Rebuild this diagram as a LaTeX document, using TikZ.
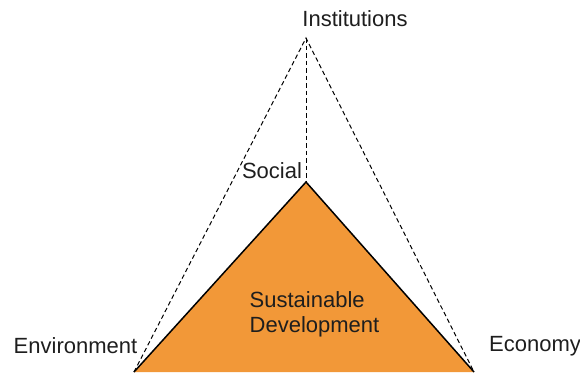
\documentclass[tikz,border=0pt]{standalone}
\usepackage{fontspec}
\setmainfont{Liberation Sans}
\definecolor{sdorange}{RGB}{242,152,56}
\definecolor{txt}{RGB}{30,30,30}
\begin{document}
\begin{tikzpicture}[x=1pt,y=-1pt,
  lbl/.style={font=\fontsize{22}{25}\selectfont, text=txt, inner sep=0pt},
  dashline/.style={draw=black, line width=1pt, dash pattern=on 4.5pt off 3pt},
  edge/.style={draw=black, line width=1.5pt, line join=miter}]
\useasboundingbox (0,0) rectangle (580,372);
\coordinate (I) at (306,38);
\coordinate (S) at (306,182);
\coordinate (L) at (134,372);
\coordinate (R) at (474,372);
\draw[dashline] (L) -- (I) -- (R);
\draw[dashline] (I) -- (S);
\fill[sdorange] (L) -- (S) -- (R) -- cycle;
\draw[edge] (L) -- (S) -- (R);
\node[lbl] (inst) at (355,19) {Institutions};
\node[lbl] (soc) at (272,171) {Social};
\node[lbl] (env) at (75.5,346) {Environment};
\node[lbl] (eco) at (535,346) {Economy};
\node[lbl, align=left, anchor=north west] (sd) at (249.5,291) {Sustainable\\Development};
\end{tikzpicture}
\end{document}
